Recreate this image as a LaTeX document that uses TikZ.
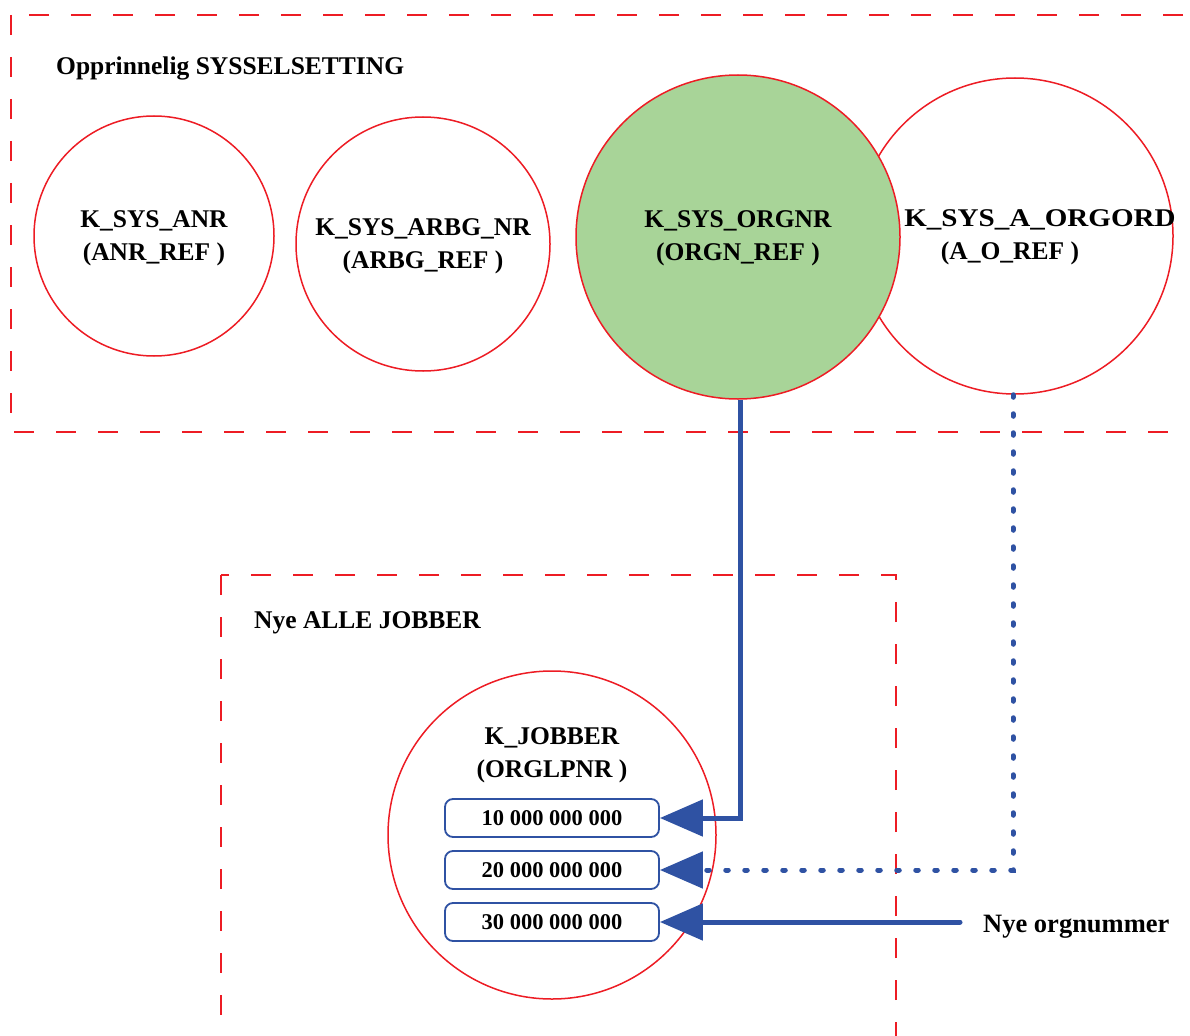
\documentclass[tikz,border=0pt]{standalone}
\usepackage{fontspec}
\setmainfont{Liberation Serif}
\usetikzlibrary{arrows.meta}
\definecolor{framered}{RGB}{237,28,36}
\definecolor{linkblue}{RGB}{47,82,163}
\definecolor{hitgreen}{RGB}{168,212,152}
\tikzset{
  region/.style={draw=framered, line width=1.8pt, dash pattern=on 20pt off 22pt},
  setcircle/.style={circle, draw=framered, line width=1.5pt, fill=white, inner sep=0pt},
  lbl/.style={font=\bfseries\fontsize{25.5}{33}\selectfont, align=center, inner sep=0pt},
  title/.style={font=\bfseries\fontsize{25.5}{30}\selectfont, anchor=west, inner sep=0pt},
  valbox/.style={draw=linkblue, line width=1.8pt, rounded corners=8pt, minimum width=214pt,
    minimum height=38pt, inner sep=0pt, font=\bfseries\fontsize{22.5}{24}\selectfont},
  conn/.style={draw=linkblue, line width=5pt, -{Triangle[length=43pt, width=36pt]}},
  dotconn/.style={conn, dash pattern=on 2.5pt off 16.5pt, line cap=round}
}
\begin{document}
\begin{tikzpicture}[x=1pt, y=-1pt]
\useasboundingbox (0,0) rectangle (1190,1035);
\begin{scope}
\clip (0,0) rectangle (1190,1035);
% dashed regions
\draw[region] (11,15) rectangle (1230,432);
\draw[region] (221,575) rectangle (896,1080);
\end{scope}

% original employment sets
\node[title] (t1) at (56,68) {Opprinnelig SYSSELSETTING};
\node[setcircle, minimum size=240pt] (c1) at (154,236) {};
\node[setcircle, minimum size=254pt] (c2) at (423,244) {};
\node[setcircle, minimum size=316pt] (c4) at (1015,236) {};
\node[setcircle, minimum size=324pt, fill=hitgreen] (c3) at (738,237) {};

\node[lbl] (l1) at (154,238) {K\_SYS\_ANR\\(ANR\_REF )};
\node[lbl] (l2) at (423,246) {K\_SYS\_ARBG\_NR\\(ARBG\_REF )};
\node[lbl] (l3) at (738,238) {K\_SYS\_ORGNR\\(ORGN\_REF )};
\node[lbl] (l4a) at (1040,220) {\scalebox{1.14}[1]{K\_SYS\_A\_ORGORD}};
\node[lbl] (l4b) at (1010,253) {(A\_O\_REF )};

% new jobs
\node[title] (t2) at (254,623) {Nye ALLE JOBBER};
\node[setcircle, minimum size=328pt] (cj) at (552,835) {};
\node[lbl] (lj) at (552,755) {K\_JOBBER\\(ORGLPNR )};

\node[valbox] (b1) at (552,818) {10 000 000 000};
\node[valbox] (b2) at (552,870) {20 000 000 000};
\node[valbox] (b3) at (552,922) {30 000 000 000};

% connectors
\draw[conn] (c3.south -| 740,0) |- (b1.east);
\draw[dotconn] (c4.south -| 1013,0) |- (b2.east);
\node[title, font=\bfseries\fontsize{26.5}{30}\selectfont] (nye) at (983,927) {Nye orgnummer};
\coordinate (src) at (960,922);
\draw[conn, line cap=round] (src) -- (b3.east);
\end{tikzpicture}
\end{document}
